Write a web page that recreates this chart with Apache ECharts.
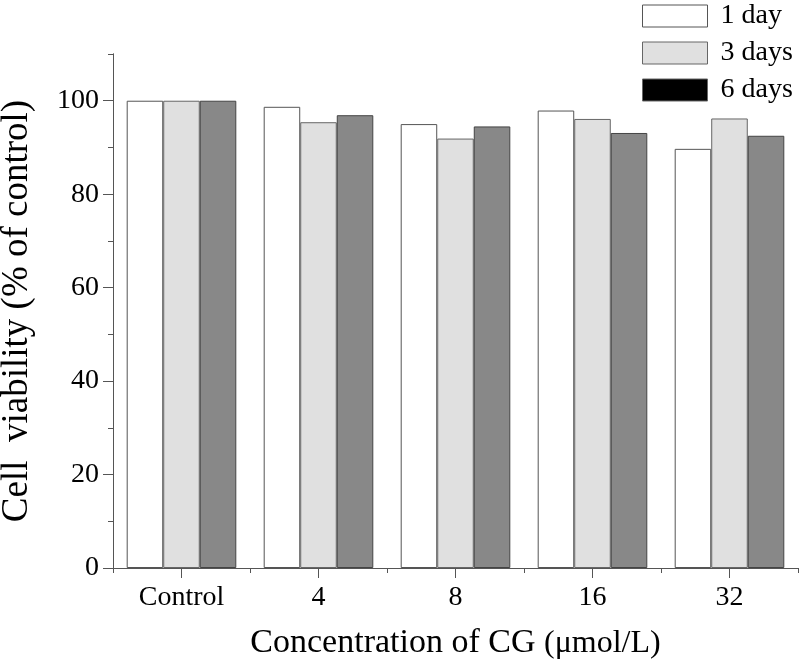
<!DOCTYPE html>
<html>
<head>
<meta charset="utf-8">
<script src="https://cdn.jsdelivr.net/npm/echarts@6/dist/echarts.min.js"></script>
<style>html,body{margin:0;padding:0;background:#fff}#c{width:800px;height:663px}</style>
</head>
<body>
<div id="c"></div>
<script>
const categories = ['Control', '4', '8', '16', '32'];
const day1 = [100, 98.7, 95.0, 97.9, 89.7];
const day3 = [100, 95.4, 91.9, 96.1, 96.2];
const day6 = [100, 96.9, 94.5, 93.1, 92.5];
const seriesNames = ['1 day', '3 days', '6 days'];
const majorTicks = [0, 20, 40, 60, 80, 100];
const minorTicks = [10, 30, 50, 70, 90, 110];

const FONT = "'Liberation Serif', 'Times New Roman', serif";
const AX = '#555';
const chart = echarts.init(document.getElementById('c'));
const barBase = { type: 'bar', xAxisIndex: 0, yAxisIndex: 0, barGap: '0%', barCategoryGap: '20%' };
chart.setOption({
  animation: false,
  backgroundColor: '#fff',
  grid: { left: 113, right: 2, top: 54, bottom: 95, containLabel: false, outerBoundsMode: 'none' },
  legend: {
    orient: 'vertical', left: 642, top: 2, padding: 0,
    itemWidth: 65, itemHeight: 22, itemGap: 9,
    icon: 'rect',
    textStyle: { fontFamily: FONT, fontSize: 28, color: '#000', padding: [0, 0, 0, 8] },
    data: [
      { name: seriesNames[0], itemStyle: { color: '#ffffff', borderColor: '#555', borderWidth: 1 } },
      { name: seriesNames[1], itemStyle: { color: '#e0e0e0', borderColor: '#666', borderWidth: 1 } },
      { name: seriesNames[2], itemStyle: { color: '#000000', borderColor: '#666', borderWidth: 1 } }
    ]
  },
  xAxis: [
    {
      type: 'category', data: categories, position: 'bottom',
      axisLine: { lineStyle: { color: AX, width: 1 } },
      axisTick: { show: true, length: 5, alignWithLabel: false, lineStyle: { color: AX } },
      axisLabel: { fontFamily: FONT, fontSize: 28, color: '#000', margin: 16 },
      name: '{a|Concentration of CG }{b|(μmol/L)}',
      nameLocation: 'middle', nameGap: 58,
      nameTextStyle: {
        rich: {
          a: { fontFamily: FONT, fontSize: 34, color: '#000' },
          b: { fontFamily: FONT, fontSize: 32, color: '#000', verticalAlign: 'bottom' }
        }
      }
    },
    {
      type: 'category', data: categories, position: 'bottom',
      axisLine: { show: false },
      axisTick: { show: true, length: 10, alignWithLabel: true, lineStyle: { color: AX } },
      axisLabel: { show: false }
    }
  ],
  yAxis: [
    {
      type: 'value', min: 0, max: 110, position: 'left',
      axisLine: { show: true, lineStyle: { color: AX, width: 1 } },
      axisTick: { show: true, length: 10, customValues: majorTicks, lineStyle: { color: AX } },
      axisLabel: { fontFamily: FONT, fontSize: 28, color: '#000', margin: 14, customValues: majorTicks },
      splitLine: { show: false },
      name: 'Cell  viability (% of control)',
      nameLocation: 'middle', nameGap: 77, nameRotate: 90,
      nameTextStyle: { fontFamily: FONT, fontSize: 37, color: '#000' }
    },
    {
      type: 'value', min: 0, max: 110, position: 'left',
      axisLine: { show: true, lineStyle: { color: AX, width: 1 } },
      axisTick: { show: true, length: 5, customValues: minorTicks, lineStyle: { color: AX } },
      axisLabel: { show: false },
      splitLine: { show: false }
    }
  ],
  series: [
    Object.assign({}, barBase, { name: seriesNames[0], data: day1, itemStyle: { color: '#ffffff', borderColor: '#555', borderWidth: 1 } }),
    Object.assign({}, barBase, { name: seriesNames[1], data: day3, itemStyle: { color: '#e0e0e0', borderColor: '#666', borderWidth: 1 } }),
    Object.assign({}, barBase, { name: seriesNames[2], data: day6, itemStyle: { color: '#888888', borderColor: '#444', borderWidth: 1 } })
  ]
});
</script>
</body>
</html>
